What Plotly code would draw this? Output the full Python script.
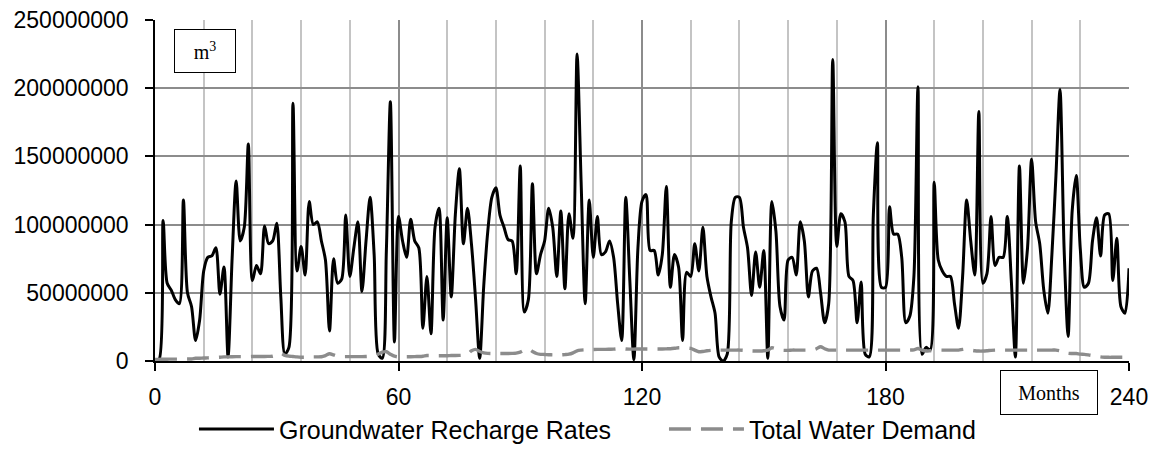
import plotly.graph_objects as go

# months 0..240
meses = list(range(0, 241))

# recarga de agua subterranea (millones de m3)
recarga_m = [
    0, 1, 103, 57, 52, 45, 42, 118, 50, 40,
    15, 30, 66, 76, 77, 83, 49, 69, 3, 75,
    132, 88, 98, 159, 59, 70, 64, 99, 86, 88,
    101, 47, 5, 10, 189, 66, 84, 63, 117, 100,
    102, 88, 74, 22, 75, 57, 60, 107, 62, 83,
    102, 51, 88, 120, 78, 5, 2, 80, 190, 14,
    106, 88, 76, 104, 88, 83, 24, 62, 20, 98,
    112, 30, 105, 47, 107, 141, 86, 112, 85, 45,
    2, 55, 95, 120, 127, 107, 98, 89, 88, 64,
    143, 36, 45, 130, 64, 78, 88, 112, 98, 62,
    110, 53, 108, 90, 225, 131, 42, 118, 76, 106,
    78, 80, 88, 76, 42, 15, 120, 59, 1, 83,
    117, 122, 81, 81, 63, 78, 128, 54, 78, 69,
    15, 65, 62, 86, 66, 98, 62, 47, 35, 3,
    0, 5, 102, 120, 120, 98, 83, 48, 80, 54,
    81, 2, 117, 95, 40, 30, 74, 76, 63, 102,
    88, 47, 66, 68, 50, 28, 42, 221, 84, 108,
    102, 62, 59, 28, 58, 5, 3, 107, 160, 54,
    54, 113, 93, 93, 76, 28, 33, 62, 201, 5,
    10, 8, 131, 74, 66, 62, 62, 42, 24, 62,
    118, 88, 63, 183, 57, 64, 106, 70, 76, 76,
    106, 59, 3, 143, 57, 83, 148, 102, 86, 52,
    35, 78, 136, 199, 83, 18, 110, 136, 82, 54,
    57, 88, 105, 77, 107, 108, 59, 90, 40, 35,
    68,
]

# demanda total (millones de m3)
demanda_m = [
    1.2, 1.2, 1.3, 1.3, 1.4, 1.4, 1.4, 1.5, 1.5, 1.5,
    2.0, 2.0, 2.2, 2.3, 2.5, 2.6, 2.8, 3.0, 3.0, 3.1,
    3.2, 3.2, 3.2, 3.2, 3.3, 3.3, 3.3, 3.3, 3.4, 3.5,
    4.5, 5.6, 4.2, 3.6, 3.3, 3.0, 2.8, 2.8, 2.9, 3.0,
    3.0, 3.1, 4.0, 5.3, 4.5, 3.5, 3.2, 3.2, 3.2, 3.2,
    3.2, 3.2, 3.3, 3.5, 4.0, 5.0, 6.5, 6.8, 5.0, 3.5,
    3.0, 3.0, 3.1, 3.1, 3.2, 3.3, 3.5, 4.0, 4.0, 3.9,
    3.9, 3.9, 3.9, 4.0, 4.0, 4.1, 4.3, 5.0, 7.5, 8.5,
    7.0, 6.0, 5.6, 5.5, 5.5, 5.5, 5.5, 5.5, 5.6, 5.8,
    6.5, 8.0, 8.8, 7.0, 5.5, 4.9, 4.8, 4.6, 4.5, 4.4,
    4.5, 4.7, 5.0, 6.0, 7.5, 8.0, 8.2, 8.3, 8.4, 8.5,
    8.5, 8.5, 8.6, 8.7, 9.0, 9.2, 8.8, 8.7, 8.7, 8.8,
    8.8, 8.8, 8.8, 8.8, 8.8, 8.8, 8.9, 9.0, 9.3, 9.7,
    9.7, 9.5, 9.2, 8.0, 6.8, 7.0, 7.5, 7.8, 8.0, 8.0,
    8.0, 8.0, 8.0, 8.0, 8.0, 7.8, 7.5, 7.4, 7.3, 7.3,
    7.5, 8.0, 9.7, 9.0, 8.0, 7.8, 7.8, 8.0, 8.0, 8.0,
    8.0, 8.0, 8.0, 9.0, 10.5, 9.0, 8.0, 8.0, 8.0, 8.0,
    8.0, 8.0, 8.0, 8.0, 8.0, 8.0, 8.0, 8.0, 8.0, 8.0,
    8.0, 8.0, 8.0, 8.0, 8.0, 8.0, 8.0, 8.2, 9.2, 8.0,
    7.3, 7.5, 7.8, 8.0, 8.0, 8.0, 8.0, 8.0, 8.0, 8.5,
    8.8, 8.0, 7.5, 7.3, 7.3, 7.5, 7.8, 8.0, 8.0, 8.0,
    8.0, 8.0, 8.0, 8.0, 8.0, 8.0, 8.0, 8.0, 8.0, 8.0,
    8.0, 8.0, 8.0, 7.5, 6.5, 5.6, 5.5, 5.5, 5.0, 4.9,
    4.5, 4.0, 3.5, 3.0, 2.8, 2.7, 2.7, 2.7, 2.7, 2.7,
    2.7,
]

recarga = [v * 1e6 for v in recarga_m]
demanda = [v * 1e6 for v in demanda_m]

fig = go.Figure()
fig.add_trace(go.Scatter(
    x=meses, y=recarga, name="Groundwater Recharge Rates",
    mode="lines", line=dict(color="black", width=3, shape="spline", smoothing=0.8),
))
fig.add_trace(go.Scatter(
    x=meses, y=demanda, name="Total Water Demand",
    mode="lines", line=dict(color="#8c8c8c", width=3.4, dash="22px,10px", shape="spline", smoothing=0.8),
))

fuente = dict(family="Liberation Sans, Arial, sans-serif", size=23, color="black")

fig.update_layout(
    width=1165, height=451,
    margin=dict(l=155, r=36, t=20, b=90, autoexpand=False),
    plot_bgcolor="white", paper_bgcolor="white",
    font=fuente,
    showlegend=True,
    legend=dict(
        orientation="h", x=0.04, xanchor="left", y=-0.2, yanchor="middle",
        font=dict(family="Liberation Sans, Arial, sans-serif", size=25),
        itemwidth=75, entrywidth=380, bgcolor="rgba(0,0,0,0)",
    ),
    xaxis=dict(
        range=[0, 240], tickvals=[0, 60, 120, 180, 240], automargin=False,
        showline=True, linecolor="black", linewidth=1.5,
        ticks="outside", ticklen=8, tickcolor="black", tickwidth=1.5,
        showgrid=True, gridcolor="#8c8c8c", gridwidth=1.5,
        minor=dict(dtick=12, showgrid=True, gridcolor="#c4c4c4", gridwidth=1.5, ticks=""),
        zeroline=False, ticklabelstandoff=7,
    ),
    yaxis=dict(
        range=[0, 250e6], dtick=50e6, tickformat="d", automargin=False,
        showline=True, linecolor="black", linewidth=1.5,
        ticks="outside", ticklen=8, tickcolor="black", tickwidth=1.5,
        showgrid=True, gridcolor="#8c8c8c", gridwidth=1.5,
        zeroline=False, ticklabelstandoff=12,
    ),
    annotations=[
        dict(
            x=12.2, y=227e6, xref="x", yref="y", text="m<sup>3</sup>",
            xanchor="center", yanchor="middle",
            showarrow=False, width=60, height=42, borderpad=0,
            bordercolor="black", borderwidth=1, bgcolor="white",
            font=dict(family="Liberation Serif, Times New Roman, serif", size=20, color="black"),
        ),
        dict(
            x=0.918, y=-0.092, xref="paper", yref="paper", text="Months",
            xanchor="center", yanchor="middle",
            showarrow=False, width=96, height=43, borderpad=0,
            bordercolor="black", borderwidth=1, bgcolor="white",
            font=dict(family="Liberation Serif, Times New Roman, serif", size=20, color="black"),
        ),
    ],
)

# sin margen del body para que la figura ocupe la ventana exacta
fig.write_html(
    "out.html",
    config={"displayModeBar": False},
    post_script="document.body.style.margin='0';",
)
